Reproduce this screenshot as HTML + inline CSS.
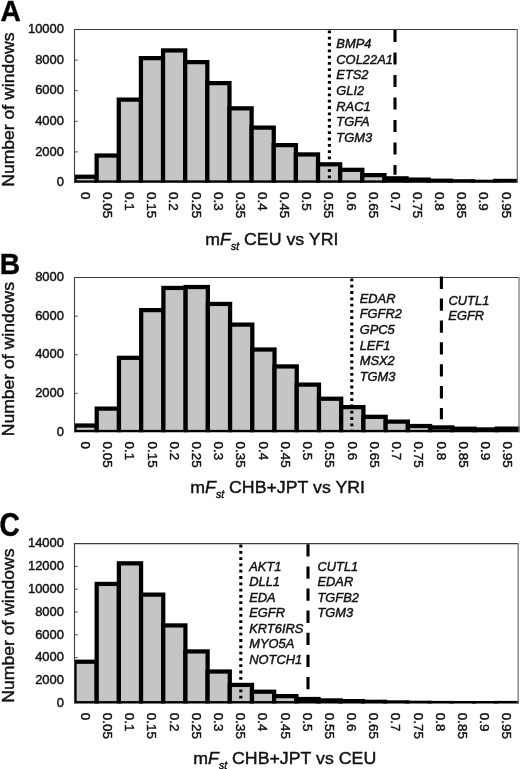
<!DOCTYPE html>
<html lang="en">
<head>
<meta charset="utf-8">
<title>mFst histograms</title>
<style>
html,body{margin:0;padding:0;background:#fff;}
body{width:520px;height:769px;overflow:hidden;}
svg{display:block;will-change:transform;}
text{font-family:"Liberation Sans",Arial,Helvetica,sans-serif;fill:#111;stroke:#111;stroke-width:0.42px;}
.tk{font-size:12.6px;}
.gn{font-size:12.4px;font-style:italic;}
.ax{font-size:17px;}
.yt{font-size:16px;}
.pl{font-size:29.8px;font-weight:bold;fill:#000;}
</style>
</head>
<body>
<svg width="520" height="769" viewBox="0 0 520 769">
<rect x="0" y="0" width="520" height="769" fill="#fff"/>
<!-- panel A -->
<defs><clipPath id="cp0"><rect x="74" y="28.5" width="444" height="154.3"/></clipPath></defs>
<text class="pl" transform="translate(0.4,20.9) scale(0.945,1)">A</text>
<text class="yt" transform="translate(14.0,186.8) rotate(-90) scale(1.098,1)">Number of windows</text>
<text class="tk" transform="translate(64.0,33.2) scale(1.03,1)" text-anchor="end">10000</text>
<line x1="74.5" y1="60.1" x2="77.8" y2="60.1" stroke="#555" stroke-width="1"/><text class="tk" transform="translate(64.0,63.8) scale(1.03,1)" text-anchor="end">8000</text>
<line x1="74.5" y1="90.7" x2="77.8" y2="90.7" stroke="#555" stroke-width="1"/><text class="tk" transform="translate(64.0,94.4) scale(1.03,1)" text-anchor="end">6000</text>
<line x1="74.5" y1="121.3" x2="77.8" y2="121.3" stroke="#555" stroke-width="1"/><text class="tk" transform="translate(64.0,125) scale(1.03,1)" text-anchor="end">4000</text>
<line x1="74.5" y1="151.9" x2="77.8" y2="151.9" stroke="#555" stroke-width="1"/><text class="tk" transform="translate(64.0,155.6) scale(1.03,1)" text-anchor="end">2000</text>
<text class="tk" transform="translate(64.0,186.2) scale(1.03,1)" text-anchor="end">0</text>
<g clip-path="url(#cp0)" fill="#c5c5c5" stroke="#000" stroke-width="4.25" stroke-linejoin="miter">
<rect x="74.50" y="176.72" width="22.14" height="5.78"/><rect x="96.64" y="155.53" width="22.14" height="26.97"/><rect x="118.78" y="99.62" width="22.14" height="82.88"/><rect x="140.92" y="58.12" width="22.14" height="124.38"/><rect x="163.06" y="50.42" width="22.14" height="132.07"/><rect x="185.20" y="62.12" width="22.14" height="120.38"/><rect x="207.34" y="83.12" width="22.14" height="99.38"/><rect x="229.48" y="108.33" width="22.14" height="74.17"/><rect x="251.62" y="127.62" width="22.14" height="54.88"/><rect x="273.76" y="145.12" width="22.14" height="37.38"/><rect x="295.90" y="154.43" width="22.14" height="28.07"/><rect x="318.04" y="164.32" width="22.14" height="18.18"/><rect x="340.18" y="169.82" width="22.14" height="12.68"/><rect x="362.32" y="175.12" width="22.14" height="7.38"/><rect x="384.46" y="178.32" width="22.14" height="4.18"/><rect x="406.60" y="179.62" width="22.14" height="2.88"/><rect x="428.74" y="180.72" width="22.14" height="1.78"/><rect x="450.88" y="181.32" width="22.14" height="1.18"/><rect x="473.02" y="181.82" width="22.14" height="0.68"/><rect x="495.16" y="180.93" width="22.14" height="1.57"/>
</g>
<path d="M74.5 182.8 V29.5 H517.3" fill="none" stroke="#3c3c3c" stroke-width="1.1"/><line x1="517.3" y1="29" x2="517.3" y2="182.8" stroke="#7a7a7a" stroke-width="1.3"/>
<line x1="329.4" y1="30.5" x2="329.4" y2="181.8" stroke="#000" stroke-width="3.1" stroke-dasharray="2.8 3.5"/>
<line x1="395" y1="29.9" x2="395" y2="174.8" stroke="#000" stroke-width="3.1" stroke-dasharray="12.2 10.3"/>
<text class="gn" transform="translate(336.3,47.90) scale(1.04,1)">BMP4</text><text class="gn" transform="translate(336.3,63.55) scale(1.04,1)">COL22A1</text><text class="gn" transform="translate(336.3,79.20) scale(1.04,1)">ETS2</text><text class="gn" transform="translate(336.3,94.85) scale(1.04,1)">GLI2</text><text class="gn" transform="translate(336.3,110.50) scale(1.04,1)">RAC1</text><text class="gn" transform="translate(336.3,126.15) scale(1.04,1)">TGFA</text><text class="gn" transform="translate(336.3,141.80) scale(1.04,1)">TGM3</text>
<text class="tk" transform="translate(80.87,192.1) rotate(90) scale(1.06605,1)">0</text><text class="tk" transform="translate(103.01,192.1) rotate(90) scale(1.06605,1)">0.05</text><text class="tk" transform="translate(125.15,192.1) rotate(90) scale(1.06605,1)">0.1</text><text class="tk" transform="translate(147.29,192.1) rotate(90) scale(1.06605,1)">0.15</text><text class="tk" transform="translate(169.43,192.1) rotate(90) scale(1.06605,1)">0.2</text><text class="tk" transform="translate(191.57,192.1) rotate(90) scale(1.06605,1)">0.25</text><text class="tk" transform="translate(213.71,192.1) rotate(90) scale(1.06605,1)">0.3</text><text class="tk" transform="translate(235.85,192.1) rotate(90) scale(1.06605,1)">0.35</text><text class="tk" transform="translate(257.99,192.1) rotate(90) scale(1.06605,1)">0.4</text><text class="tk" transform="translate(280.13,192.1) rotate(90) scale(1.06605,1)">0.45</text><text class="tk" transform="translate(302.27,192.1) rotate(90) scale(1.06605,1)">0.5</text><text class="tk" transform="translate(324.41,192.1) rotate(90) scale(1.06605,1)">0.55</text><text class="tk" transform="translate(346.55,192.1) rotate(90) scale(1.06605,1)">0.6</text><text class="tk" transform="translate(368.69,192.1) rotate(90) scale(1.06605,1)">0.65</text><text class="tk" transform="translate(390.83,192.1) rotate(90) scale(1.06605,1)">0.7</text><text class="tk" transform="translate(412.97,192.1) rotate(90) scale(1.06605,1)">0.75</text><text class="tk" transform="translate(435.11,192.1) rotate(90) scale(1.06605,1)">0.8</text><text class="tk" transform="translate(457.25,192.1) rotate(90) scale(1.06605,1)">0.85</text><text class="tk" transform="translate(479.39,192.1) rotate(90) scale(1.06605,1)">0.9</text><text class="tk" transform="translate(501.53,192.1) rotate(90) scale(1.06605,1)">0.95</text>
<text class="ax" transform="translate(205.3,244.7) scale(1.045,1)">m<tspan font-style="italic">F</tspan><tspan font-style="italic" font-size="10px" dy="4.9">st</tspan><tspan dy="-4.9"> CEU vs YRI</tspan></text>
<!-- panel B -->
<defs><clipPath id="cp1"><rect x="74" y="276.5" width="445.7" height="155.8"/></clipPath></defs>
<text class="pl" transform="translate(-0.3,273.7) scale(0.945,1)">B</text>
<text class="yt" transform="translate(14.0,436.3) rotate(-90) scale(1.098,1)">Number of windows</text>
<text class="tk" transform="translate(64.0,281.2) scale(1.03,1)" text-anchor="end">8000</text>
<line x1="74.5" y1="316.125" x2="77.8" y2="316.125" stroke="#555" stroke-width="1"/><text class="tk" transform="translate(64.0,319.825) scale(1.03,1)" text-anchor="end">6000</text>
<line x1="74.5" y1="354.75" x2="77.8" y2="354.75" stroke="#555" stroke-width="1"/><text class="tk" transform="translate(64.0,358.45) scale(1.03,1)" text-anchor="end">4000</text>
<line x1="74.5" y1="393.375" x2="77.8" y2="393.375" stroke="#555" stroke-width="1"/><text class="tk" transform="translate(64.0,397.075) scale(1.03,1)" text-anchor="end">2000</text>
<text class="tk" transform="translate(64.0,435.7) scale(1.03,1)" text-anchor="end">0</text>
<g clip-path="url(#cp1)" fill="#c5c5c5" stroke="#000" stroke-width="4.25" stroke-linejoin="miter">
<rect x="74.50" y="425.52" width="22.23" height="6.48"/><rect x="96.72" y="408.62" width="22.23" height="23.38"/><rect x="118.95" y="357.82" width="22.23" height="74.18"/><rect x="141.18" y="310.12" width="22.23" height="121.88"/><rect x="163.40" y="287.93" width="22.23" height="144.07"/><rect x="185.62" y="287.02" width="22.23" height="144.98"/><rect x="207.85" y="303.93" width="22.23" height="128.07"/><rect x="230.08" y="324.62" width="22.23" height="107.38"/><rect x="252.30" y="349.52" width="22.23" height="82.48"/><rect x="274.52" y="366.43" width="22.23" height="65.57"/><rect x="296.75" y="384.62" width="22.23" height="47.38"/><rect x="318.98" y="398.73" width="22.23" height="33.27"/><rect x="341.20" y="407.12" width="22.23" height="24.88"/><rect x="363.43" y="416.82" width="22.23" height="15.18"/><rect x="385.65" y="421.62" width="22.23" height="10.38"/><rect x="407.88" y="426.02" width="22.23" height="5.98"/><rect x="430.10" y="427.43" width="22.23" height="4.57"/><rect x="452.33" y="428.73" width="22.23" height="3.27"/><rect x="474.55" y="429.43" width="22.23" height="2.57"/><rect x="496.78" y="428.62" width="22.23" height="3.38"/>
</g>
<path d="M74.5 432.3 V277.5 H519" fill="none" stroke="#3c3c3c" stroke-width="1.1"/><line x1="519" y1="277" x2="519" y2="432.3" stroke="#7a7a7a" stroke-width="1.3"/>
<line x1="351.8" y1="278.5" x2="351.8" y2="431.3" stroke="#000" stroke-width="3.1" stroke-dasharray="2.8 3.5"/>
<line x1="441.4" y1="276.6" x2="441.4" y2="419.3" stroke="#000" stroke-width="3.1" stroke-dasharray="12.3 9.6"/>
<text class="gn" transform="translate(359.7,302.60) scale(1.04,1)">EDAR</text><text class="gn" transform="translate(359.7,318.30) scale(1.04,1)">FGFR2</text><text class="gn" transform="translate(359.7,334.00) scale(1.04,1)">GPC5</text><text class="gn" transform="translate(359.7,349.70) scale(1.04,1)">LEF1</text><text class="gn" transform="translate(359.7,365.40) scale(1.04,1)">MSX2</text><text class="gn" transform="translate(359.7,381.10) scale(1.04,1)">TGM3</text>
<text class="gn" transform="translate(448.5,304.60) scale(1.04,1)">CUTL1</text>
<text class="gn" transform="translate(448.3,319.60) scale(1.04,1)">EGFR</text>
<text class="tk" transform="translate(80.91,441.6) rotate(90) scale(1.06605,1)">0</text><text class="tk" transform="translate(103.14,441.6) rotate(90) scale(1.06605,1)">0.05</text><text class="tk" transform="translate(125.36,441.6) rotate(90) scale(1.06605,1)">0.1</text><text class="tk" transform="translate(147.59,441.6) rotate(90) scale(1.06605,1)">0.15</text><text class="tk" transform="translate(169.81,441.6) rotate(90) scale(1.06605,1)">0.2</text><text class="tk" transform="translate(192.04,441.6) rotate(90) scale(1.06605,1)">0.25</text><text class="tk" transform="translate(214.26,441.6) rotate(90) scale(1.06605,1)">0.3</text><text class="tk" transform="translate(236.49,441.6) rotate(90) scale(1.06605,1)">0.35</text><text class="tk" transform="translate(258.71,441.6) rotate(90) scale(1.06605,1)">0.4</text><text class="tk" transform="translate(280.94,441.6) rotate(90) scale(1.06605,1)">0.45</text><text class="tk" transform="translate(303.16,441.6) rotate(90) scale(1.06605,1)">0.5</text><text class="tk" transform="translate(325.39,441.6) rotate(90) scale(1.06605,1)">0.55</text><text class="tk" transform="translate(347.61,441.6) rotate(90) scale(1.06605,1)">0.6</text><text class="tk" transform="translate(369.84,441.6) rotate(90) scale(1.06605,1)">0.65</text><text class="tk" transform="translate(392.06,441.6) rotate(90) scale(1.06605,1)">0.7</text><text class="tk" transform="translate(414.29,441.6) rotate(90) scale(1.06605,1)">0.75</text><text class="tk" transform="translate(436.51,441.6) rotate(90) scale(1.06605,1)">0.8</text><text class="tk" transform="translate(458.74,441.6) rotate(90) scale(1.06605,1)">0.85</text><text class="tk" transform="translate(480.96,441.6) rotate(90) scale(1.06605,1)">0.9</text><text class="tk" transform="translate(503.19,441.6) rotate(90) scale(1.06605,1)">0.95</text>
<text class="ax" transform="translate(190.3,492.9) scale(1.045,1)">m<tspan font-style="italic">F</tspan><tspan font-style="italic" font-size="10px" dy="4.9">st</tspan><tspan dy="-4.9"> CHB+JPT vs YRI</tspan></text>
<!-- panel C -->
<defs><clipPath id="cp2"><rect x="74" y="542.6" width="444.9" height="160.9"/></clipPath></defs>
<text class="pl" transform="translate(-0.5,535.5) scale(0.945,1.1)">C</text>
<text class="yt" transform="translate(14.0,702.7) rotate(-90) scale(1.098,1)">Number of windows</text>
<text class="tk" transform="translate(64.0,547.3) scale(1.03,1)" text-anchor="end">14000</text>
<line x1="74.5" y1="566.4" x2="77.8" y2="566.4" stroke="#555" stroke-width="1"/><text class="tk" transform="translate(64.0,570.1) scale(1.03,1)" text-anchor="end">12000</text>
<line x1="74.5" y1="589.2" x2="77.8" y2="589.2" stroke="#555" stroke-width="1"/><text class="tk" transform="translate(64.0,592.9) scale(1.03,1)" text-anchor="end">10000</text>
<line x1="74.5" y1="612" x2="77.8" y2="612" stroke="#555" stroke-width="1"/><text class="tk" transform="translate(64.0,615.7) scale(1.03,1)" text-anchor="end">8000</text>
<line x1="74.5" y1="634.8" x2="77.8" y2="634.8" stroke="#555" stroke-width="1"/><text class="tk" transform="translate(64.0,638.5) scale(1.03,1)" text-anchor="end">6000</text>
<line x1="74.5" y1="657.6" x2="77.8" y2="657.6" stroke="#555" stroke-width="1"/><text class="tk" transform="translate(64.0,661.3) scale(1.03,1)" text-anchor="end">4000</text>
<line x1="74.5" y1="680.4" x2="77.8" y2="680.4" stroke="#555" stroke-width="1"/><text class="tk" transform="translate(64.0,684.1) scale(1.03,1)" text-anchor="end">2000</text>
<text class="tk" transform="translate(64.0,706.9) scale(1.03,1)" text-anchor="end">0</text>
<g clip-path="url(#cp2)" fill="#c5c5c5" stroke="#000" stroke-width="4.25" stroke-linejoin="miter">
<rect x="74.50" y="661.73" width="22.19" height="41.48"/><rect x="96.69" y="583.92" width="22.19" height="119.28"/><rect x="118.87" y="563.33" width="22.19" height="139.88"/><rect x="141.06" y="594.62" width="22.19" height="108.58"/><rect x="163.24" y="625.42" width="22.19" height="77.78"/><rect x="185.43" y="651.42" width="22.19" height="51.78"/><rect x="207.61" y="671.52" width="22.19" height="31.68"/><rect x="229.80" y="684.92" width="22.19" height="18.28"/><rect x="251.98" y="691.73" width="22.19" height="11.48"/><rect x="274.17" y="696.12" width="22.19" height="7.08"/><rect x="296.35" y="699.02" width="22.19" height="4.18"/><rect x="318.54" y="700.42" width="22.19" height="2.78"/><rect x="340.72" y="701.12" width="22.19" height="2.08"/><rect x="362.91" y="701.83" width="22.19" height="1.38"/><rect x="385.09" y="702.42" width="22.19" height="0.78"/><rect x="407.28" y="702.83" width="22.19" height="0.38"/><rect x="429.46" y="703.02" width="22.19" height="0.18"/><rect x="451.65" y="703.12" width="22.19" height="0.08"/><rect x="473.83" y="703.12" width="22.19" height="0.08"/><rect x="496.02" y="703.02" width="22.19" height="0.18"/>
</g>
<path d="M74.5 703.5 V543.6 H518.2" fill="none" stroke="#3c3c3c" stroke-width="1.1"/><line x1="518.2" y1="543.1" x2="518.2" y2="703.5" stroke="#7a7a7a" stroke-width="1.3"/>
<line x1="240.8" y1="544.6" x2="240.8" y2="702.5" stroke="#000" stroke-width="3.1" stroke-dasharray="2.8 3.5"/>
<line x1="308" y1="544.3" x2="308" y2="689.3" stroke="#000" stroke-width="3.1" stroke-dasharray="12.3 9.8"/>
<text class="gn" transform="translate(249.2,571.00) scale(1.04,1)">AKT1</text><text class="gn" transform="translate(249.2,586.42) scale(1.04,1)">DLL1</text><text class="gn" transform="translate(249.2,601.84) scale(1.04,1)">EDA</text><text class="gn" transform="translate(249.2,617.26) scale(1.04,1)">EGFR</text><text class="gn" transform="translate(249.2,632.68) scale(1.04,1)">KRT6IRS</text><text class="gn" transform="translate(249.2,648.10) scale(1.04,1)">MYO5A</text><text class="gn" transform="translate(249.2,663.52) scale(1.04,1)">NOTCH1</text>
<text class="gn" transform="translate(317.4,571.00) scale(1.04,1)">CUTL1</text><text class="gn" transform="translate(317.4,586.42) scale(1.04,1)">EDAR</text><text class="gn" transform="translate(317.4,601.84) scale(1.04,1)">TGFB2</text><text class="gn" transform="translate(317.4,617.26) scale(1.04,1)">TGM3</text>
<text class="tk" transform="translate(80.89,712.8) rotate(90) scale(1.06605,1)">0</text><text class="tk" transform="translate(103.08,712.8) rotate(90) scale(1.06605,1)">0.05</text><text class="tk" transform="translate(125.26,712.8) rotate(90) scale(1.06605,1)">0.1</text><text class="tk" transform="translate(147.45,712.8) rotate(90) scale(1.06605,1)">0.15</text><text class="tk" transform="translate(169.63,712.8) rotate(90) scale(1.06605,1)">0.2</text><text class="tk" transform="translate(191.82,712.8) rotate(90) scale(1.06605,1)">0.25</text><text class="tk" transform="translate(214.00,712.8) rotate(90) scale(1.06605,1)">0.3</text><text class="tk" transform="translate(236.19,712.8) rotate(90) scale(1.06605,1)">0.35</text><text class="tk" transform="translate(258.37,712.8) rotate(90) scale(1.06605,1)">0.4</text><text class="tk" transform="translate(280.56,712.8) rotate(90) scale(1.06605,1)">0.45</text><text class="tk" transform="translate(302.74,712.8) rotate(90) scale(1.06605,1)">0.5</text><text class="tk" transform="translate(324.93,712.8) rotate(90) scale(1.06605,1)">0.55</text><text class="tk" transform="translate(347.11,712.8) rotate(90) scale(1.06605,1)">0.6</text><text class="tk" transform="translate(369.30,712.8) rotate(90) scale(1.06605,1)">0.65</text><text class="tk" transform="translate(391.48,712.8) rotate(90) scale(1.06605,1)">0.7</text><text class="tk" transform="translate(413.67,712.8) rotate(90) scale(1.06605,1)">0.75</text><text class="tk" transform="translate(435.85,712.8) rotate(90) scale(1.06605,1)">0.8</text><text class="tk" transform="translate(458.04,712.8) rotate(90) scale(1.06605,1)">0.85</text><text class="tk" transform="translate(480.22,712.8) rotate(90) scale(1.06605,1)">0.9</text><text class="tk" transform="translate(502.41,712.8) rotate(90) scale(1.06605,1)">0.95</text>
<text class="ax" transform="translate(193.3,764.2) scale(1.045,1)">m<tspan font-style="italic">F</tspan><tspan font-style="italic" font-size="10px" dy="4.9">st</tspan><tspan dy="-4.9"> CHB+JPT vs CEU</tspan></text>
</svg>
</body>
</html>
